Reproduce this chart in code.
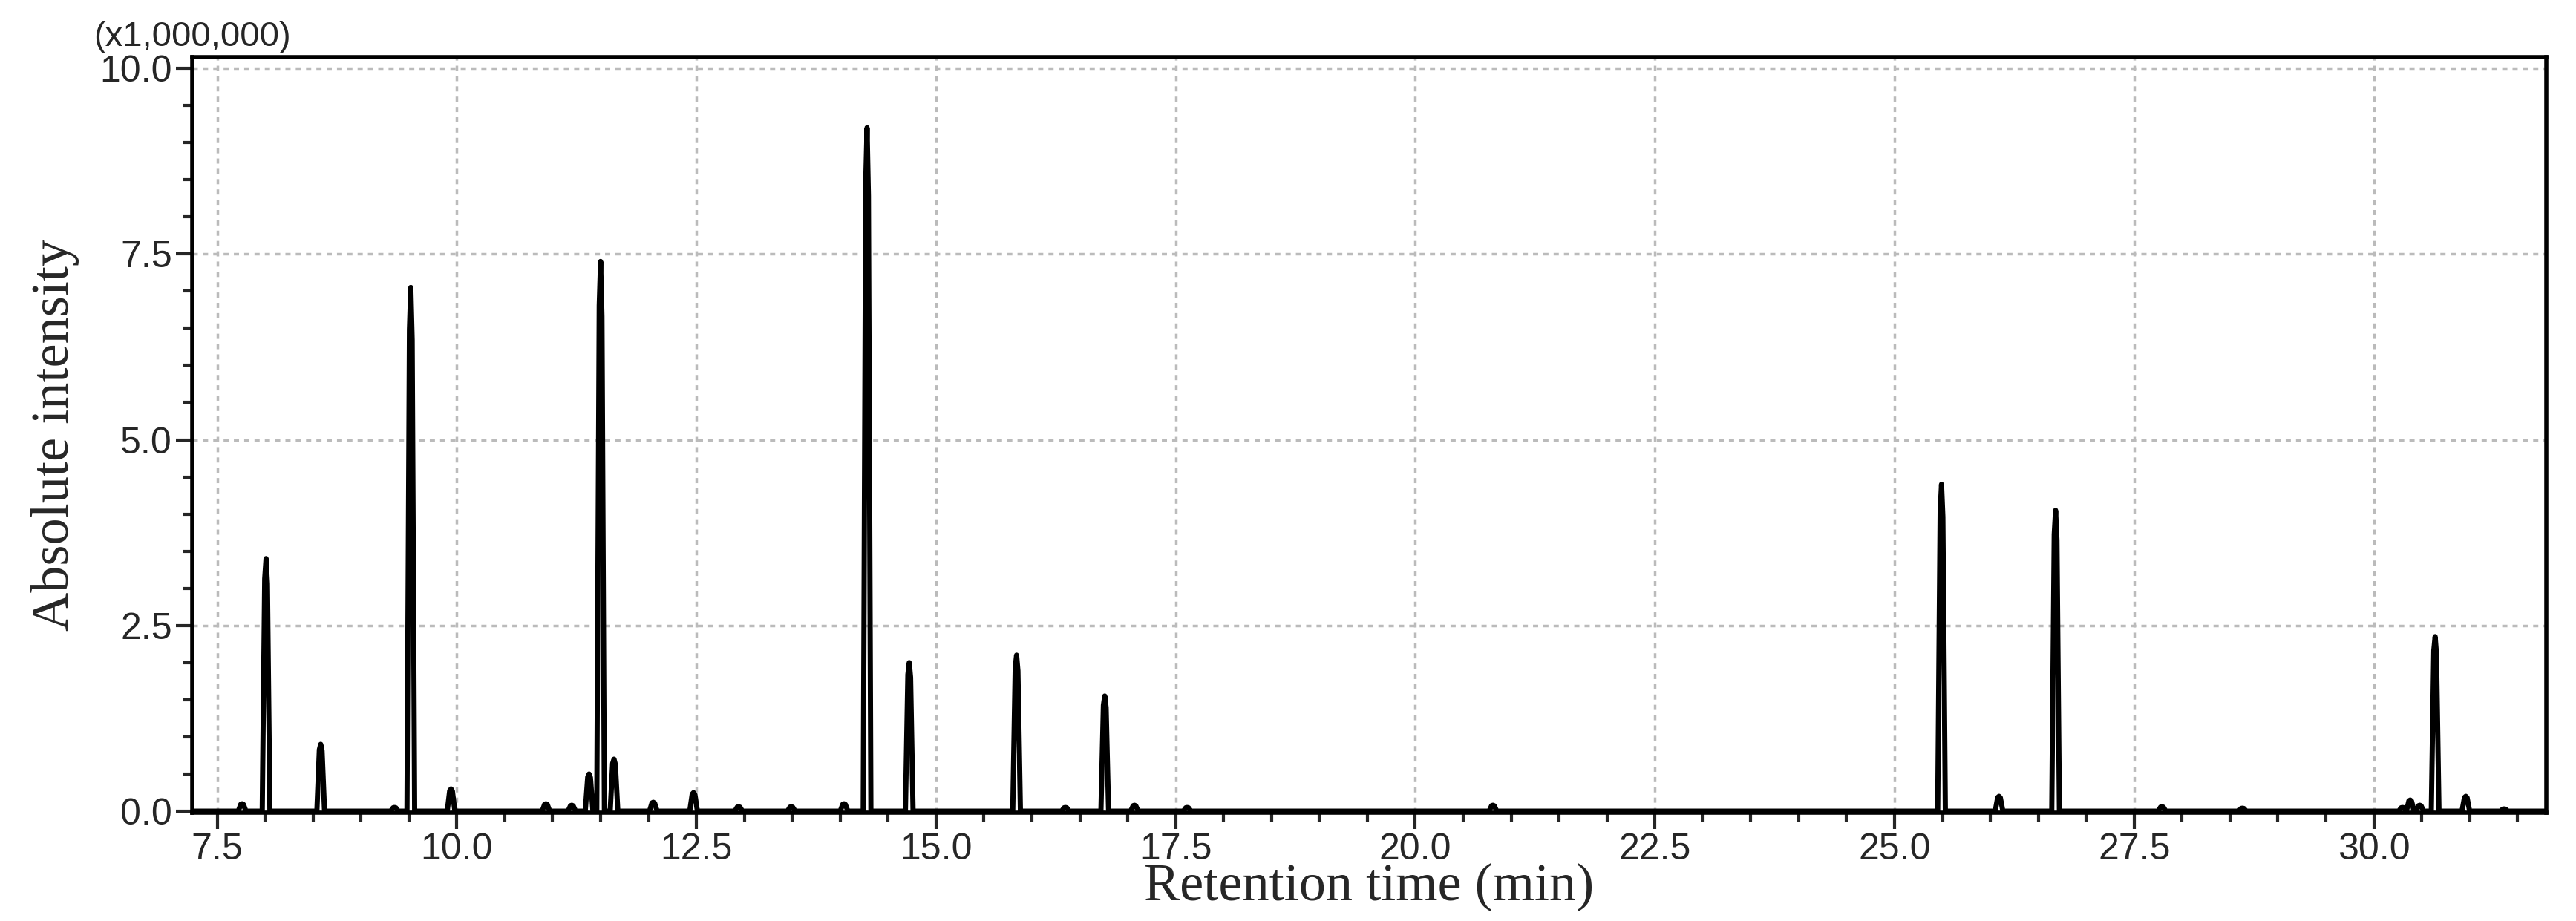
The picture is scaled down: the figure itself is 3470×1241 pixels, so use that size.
import numpy as np, pandas as pd, matplotlib
matplotlib.use("Agg")
import matplotlib.pyplot as plt, seaborn as sns
from matplotlib.ticker import MultipleLocator

peak_rt = [7.76, 8.01, 8.58, 9.35, 9.52, 9.94, 10.93, 11.2, 11.38, 11.5, 11.64, 12.05, 12.47, 12.94,
           13.49, 14.04, 14.28, 14.72, 15.84, 16.35, 16.76, 17.07, 17.62, 20.81, 25.49, 26.09,
           26.68, 27.79, 28.63, 30.3, 30.38, 30.48, 30.64, 30.96, 31.36]
peak_h = [0.1, 3.4, 0.9, 0.05, 7.05, 0.3, 0.1, 0.08, 0.5, 7.4, 0.7, 0.12, 0.25, 0.06,
          0.06, 0.1, 9.2, 2.0, 2.1, 0.05, 1.55, 0.08, 0.05, 0.08, 4.4, 0.2,
          4.05, 0.06, 0.04, 0.05, 0.15, 0.08, 2.35, 0.2, 0.03]

sns.set_style("white")
plt.rcParams['font.family'] = ['Liberation Sans', 'DejaVu Sans']

xs, ys = [7.24], [0.0]
dx = [-0.04, -0.014, 0.0, 0.014, 0.04]
fr = [0.0, 0.92, 1.0, 0.9, 0.0]
for rt, h in zip(peak_rt, peak_h):
    for d, f in zip(dx, fr):
        xs.append(rt + d); ys.append(h * f)
xs.append(31.8); ys.append(0.0)
df = pd.DataFrame({"rt": xs, "y": ys})

fig = plt.figure(figsize=(34.7, 12.41), dpi=100)
ax = fig.add_axes([259/3470, 1 - 1095/1241, (3430-259)/3470, (1095-77)/1241])
sns.lineplot(data=df, x="rt", y="y", sort=False, color="black", linewidth=5, ax=ax, estimator=None)
ax.set_xlim(7.24, 31.8)
ax.set_ylim(-0.02, 10.15)
ax.xaxis.set_major_locator(MultipleLocator(2.5))
ax.xaxis.set_minor_locator(MultipleLocator(0.5))
ax.yaxis.set_major_locator(MultipleLocator(2.5))
ax.yaxis.set_minor_locator(MultipleLocator(0.5))
ax.xaxis.set_major_formatter(matplotlib.ticker.FormatStrFormatter('%.1f'))
ax.yaxis.set_major_formatter(matplotlib.ticker.FormatStrFormatter('%.1f'))
ax.grid(True, which="major", color="#bbbbbb", linestyle=(0, (2, 2)), linewidth=2.5)
ax.tick_params(which="major", length=16, width=3, labelsize=36, direction="out", bottom=True, left=True)
ax.tick_params(which="minor", length=9, width=3, direction="out", bottom=True, left=True)
for s in ax.spines.values():
    s.set_linewidth(4); s.set_color("black")
ax.set_xlabel("Retention time (min)", family=["Liberation Serif"], fontsize=52, labelpad=-4)
ax.set_ylabel("Absolute intensity", family=["Liberation Serif"], fontsize=52, labelpad=20)
ax.text(0.0, 1.005, "(x1,000,000)", transform=ax.transAxes, fontsize=34, ha="center", va="bottom")
fig.savefig("out.png", dpi=100)
